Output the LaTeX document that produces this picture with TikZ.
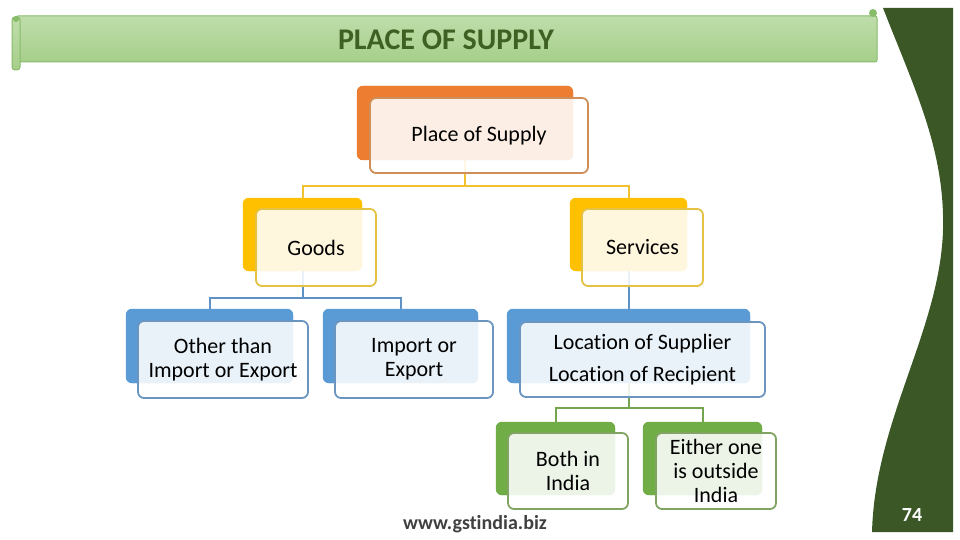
\documentclass[tikz,border=0pt]{standalone}
\usepackage{fontspec}
\setmainfont{Carlito}[Ligatures=NoCommon]
\usetikzlibrary{calc}
\definecolor{cOrange}{HTML}{ED7D31}
\definecolor{cGold}{HTML}{FFC000}
\definecolor{cBlue}{HTML}{5B9BD5}
\definecolor{cGreen}{HTML}{70AD47}
\definecolor{bOrange}{HTML}{CF8E58}
\definecolor{bGold}{HTML}{E5C244}
\definecolor{bBlue}{HTML}{6A95C0}
\definecolor{bGreen}{HTML}{82A463}
\definecolor{lGold}{HTML}{F2C22E}
\definecolor{lBlue}{HTML}{5E92C4}
\definecolor{lGreen}{HTML}{74A44E}
\definecolor{darkGreen}{RGB}{59,87,38}
\definecolor{titleGreen}{RGB}{62,96,34}
\definecolor{bannerTop}{HTML}{BFDDAB}
\definecolor{bannerBot}{HTML}{A6CF8A}
\definecolor{bannerLine}{HTML}{88BB6A}
\definecolor{footGray}{HTML}{404040}
\begin{document}
\begin{tikzpicture}[x=1pt,y=-1pt,
  backbox/.style={rounded corners=6pt, fill=#1, draw=none, inner sep=0pt},
  frontbox/.style={rounded corners=6pt, draw=#1, line width=1.8pt, fill=white, fill opacity=0.87, text opacity=1, inner sep=0pt, align=center, font=\fontsize{22}{24}\selectfont},
  conn/.style={draw=#1, line width=2pt}
]
\useasboundingbox (0,0) rectangle (960,540);

% right decorative shape
\fill[darkGreen] (883,8) -- (953,8) -- (953,532) -- (872,532)
  .. controls (875,420) and (940,330) .. (943,230)
  .. controls (945,150) and (915,90) .. (883,8) -- cycle;
\node[text=white, font=\fontsize{20}{22}\selectfont\bfseries] (pnum) at (912,515) {74};

% banner
\path[top color=bannerTop, bottom color=bannerBot, draw=bannerLine, line width=1pt, rounded corners=2pt]
  (16,16) rectangle (877,62);
\path[top color=bannerTop, bottom color=bannerBot, draw=bannerLine, line width=1pt, rounded corners=3pt]
  (12,17) rectangle (20,70);
\fill[bannerLine] (16,19) circle (3);
\fill[bannerLine] (873,13) circle (4);
\node[text=titleGreen, font=\fontsize{30}{32}\selectfont\bfseries] (title) at (446,40) {PLACE OF SUPPLY};

% back boxes
\node[backbox=cOrange, minimum width=216, minimum height=74] (rootb) at (465,123) {};
\node[backbox=cGold, minimum width=119, minimum height=73] (goodsb) at (302.5,234.5) {};
\node[backbox=cGold, minimum width=117, minimum height=73] (servb) at (628.5,234.5) {};
\node[backbox=cBlue, minimum width=167, minimum height=74] (otherb) at (209.5,346) {};
\node[backbox=cBlue, minimum width=155, minimum height=74] (impb) at (400.5,346) {};
\node[backbox=cBlue, minimum width=243, minimum height=74] (locb) at (628.5,346) {};
\node[backbox=cGreen, minimum width=119, minimum height=73] (bothb) at (555.5,458.5) {};
\node[backbox=cGreen, minimum width=119, minimum height=73] (eithb) at (702.5,458.5) {};

% connectors
\coordinate (j1) at (465,185.5);
\coordinate (j2) at (302.5,298);
\coordinate (j3) at (628.5,408);
\draw[conn=lGold] (rootb.south) -- (j1) -| (goodsb.north);
\draw[conn=lGold] (j1) -| (servb.north);
\draw[conn=lBlue] (goodsb.south) -- (j2) -| (otherb.north);
\draw[conn=lBlue] (j2) -| (impb.north);
\draw[conn=lBlue] (servb.south) -- (locb.north);
\draw[conn=lGreen] (locb.south) -- (j3) -| (bothb.north);
\draw[conn=lGreen] (j3) -| (eithb.north);

% redraw back boxes over connector stubs
\fill[cOrange, rounded corners=6pt] (rootb.south west) rectangle (rootb.north east);
\fill[cGold, rounded corners=6pt] (goodsb.south west) rectangle (goodsb.north east);
\fill[cGold, rounded corners=6pt] (servb.south west) rectangle (servb.north east);
\fill[cBlue, rounded corners=6pt] (otherb.south west) rectangle (otherb.north east);
\fill[cBlue, rounded corners=6pt] (impb.south west) rectangle (impb.north east);
\fill[cBlue, rounded corners=6pt] (locb.south west) rectangle (locb.north east);
\fill[cGreen, rounded corners=6pt] (bothb.south west) rectangle (bothb.north east);
\fill[cGreen, rounded corners=6pt] (eithb.south west) rectangle (eithb.north east);

% front boxes
\node[frontbox=bOrange, minimum width=218, minimum height=75] (root) at (479,135.5) {Place of Supply};
\node[frontbox=bGold, minimum width=120, minimum height=77] (goods) at (316,247.5) {Goods};
\node[frontbox=bGold, minimum width=121, minimum height=77] (serv) at (642.5,247.5) {Services};
\node[frontbox=bBlue, minimum width=170, minimum height=77] (other) at (223,359.5) {Other than\\Import or Export};
\node[frontbox=bBlue, minimum width=158, minimum height=77] (imp) at (414,359.5) {Import or\\Export};
\node[frontbox=bBlue, minimum width=245, minimum height=75] (loc) at (642.5,359.5) {Location of Supplier\\[8pt]Location of Recipient};
\node[frontbox=bGreen, minimum width=120, minimum height=76] (both) at (568,471) {Both in\\India};
\node[frontbox=bGreen, minimum width=120, minimum height=76] (eith) at (716,471) {Either one\\is outside\\India};

% footer
\node[text=footGray, font=\fontsize{20}{22}\selectfont\bfseries] (foot) at (475,524) {www.gstindia.biz};
\end{tikzpicture}
\end{document}
